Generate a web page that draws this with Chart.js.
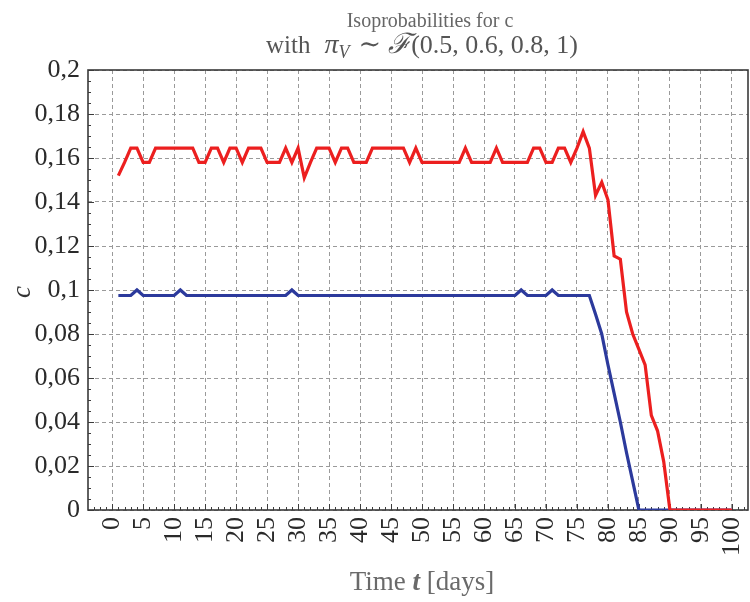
<!DOCTYPE html>
<html>
<head>
<meta charset="utf-8">
<script src="https://cdn.jsdelivr.net/npm/chart.js@4/dist/chart.umd.min.js"></script>
<style>
  html, body { margin: 0; padding: 0; background: #ffffff; }
  #wrap { width: 750px; height: 602px; }
</style>
</head>
<body>
<div id="wrap"><canvas id="chart" width="750" height="602"></canvas></div>
<script>
// Time axis (days)
const days = [
  1, 2, 3, 4, 5, 6, 7, 8, 9, 10,
  11, 12, 13, 14, 15, 16, 17, 18, 19, 20,
  21, 22, 23, 24, 25, 26, 27, 28, 29, 30,
  31, 32, 33, 34, 35, 36, 37, 38, 39, 40,
  41, 42, 43, 44, 45, 46, 47, 48, 49, 50,
  51, 52, 53, 54, 55, 56, 57, 58, 59, 60,
  61, 62, 63, 64, 65, 66, 67, 68, 69, 70,
  71, 72, 73, 74, 75, 76, 77, 78, 79, 80,
  81, 82, 83, 84, 85, 86, 87, 88, 89, 90,
  91, 92, 93, 94, 95, 96, 97, 98, 99, 100
];

// Upper isoprobability curve for c (red)
const cUpper = [
  0.152, 0.158, 0.1645, 0.1645, 0.158, 0.158, 0.1645, 0.1645, 0.1645, 0.1645,
  0.1645, 0.1645, 0.1645, 0.158, 0.158, 0.1645, 0.1645, 0.158, 0.1645, 0.1645,
  0.158, 0.1645, 0.1645, 0.1645, 0.158, 0.158, 0.158, 0.1645, 0.158, 0.1645,
  0.151, 0.158, 0.1645, 0.1645, 0.1645, 0.158, 0.1645, 0.1645, 0.158, 0.158,
  0.158, 0.1645, 0.1645, 0.1645, 0.1645, 0.1645, 0.1645, 0.158, 0.1645, 0.158,
  0.158, 0.158, 0.158, 0.158, 0.158, 0.158, 0.1645, 0.158, 0.158, 0.158,
  0.158, 0.1645, 0.158, 0.158, 0.158, 0.158, 0.158, 0.1645, 0.1645, 0.158,
  0.158, 0.1645, 0.1645, 0.158, 0.1645, 0.172, 0.1645, 0.143, 0.149, 0.141,
  0.1155, 0.114, 0.09, 0.08, 0.073, 0.066, 0.043, 0.036, 0.022, 0,
  0, 0, 0, 0, 0, 0, 0, 0, 0, 0
];

// Lower isoprobability curve for c (blue)
const cLower = [
  0.0975, 0.0975, 0.0975, 0.1, 0.0975, 0.0975, 0.0975, 0.0975, 0.0975, 0.0975,
  0.1, 0.0975, 0.0975, 0.0975, 0.0975, 0.0975, 0.0975, 0.0975, 0.0975, 0.0975,
  0.0975, 0.0975, 0.0975, 0.0975, 0.0975, 0.0975, 0.0975, 0.0975, 0.1, 0.0975,
  0.0975, 0.0975, 0.0975, 0.0975, 0.0975, 0.0975, 0.0975, 0.0975, 0.0975, 0.0975,
  0.0975, 0.0975, 0.0975, 0.0975, 0.0975, 0.0975, 0.0975, 0.0975, 0.0975, 0.0975,
  0.0975, 0.0975, 0.0975, 0.0975, 0.0975, 0.0975, 0.0975, 0.0975, 0.0975, 0.0975,
  0.0975, 0.0975, 0.0975, 0.0975, 0.0975, 0.1, 0.0975, 0.0975, 0.0975, 0.0975,
  0.1, 0.0975, 0.0975, 0.0975, 0.0975, 0.0975, 0.0975, 0.089, 0.08, 0.066,
  0.053, 0.04, 0.026, 0.013, 0, 0, 0, 0, 0, 0,
  0, 0, 0, 0, 0, 0, 0, 0, 0, 0
];

// Axis ticks
const xTickValues = [0, 5, 10, 15, 20, 25, 30, 35, 40, 45, 50, 55, 60, 65, 70, 75, 80, 85, 90, 95, 100];
const yTickValues = [0, 0.02, 0.04, 0.06, 0.08, 0.1, 0.12, 0.14, 0.16, 0.18, 0.2];
const yTickLabels = ['0', '0,02', '0,04', '0,06', '0,08', '0,1', '0,12', '0,14', '0,16', '0,18', '0,2'];

const SERIF = '"Liberation Serif", "DejaVu Serif", serif';

// Draw a row of differently styled text pieces centred on cx
function drawRuns(ctx, runs, cx, baseline, color) {
  ctx.fillStyle = color;
  ctx.textBaseline = 'alphabetic';
  ctx.textAlign = 'left';
  let total = 0;
  runs.forEach(r => {
    if (r.gap !== undefined) { r.w = r.gap; } else { ctx.font = r.font; r.w = ctx.measureText(r.text).width; }
    total += r.w;
  });
  let x = cx - total / 2;
  runs.forEach(r => {
    if (r.text) {
      ctx.font = r.font;
      ctx.fillText(r.text, x, baseline + (r.dy || 0));
    }
    x += r.w;
  });
}

const framePlugin = {
  id: 'frame',
  beforeDatasetsDraw(chart) {
    const { ctx, chartArea: a, scales: { x, y } } = chart;
    ctx.save();
    ctx.strokeStyle = '#3c3c3c';
    ctx.lineWidth = 1;
    // minor and major inside ticks along the bottom edge
    ctx.beginPath();
    for (let d = -3; d <= 102; d++) {
      const px = Math.round(x.getPixelForValue(d)) + 0.5;
      const len = d % 5 === 0 ? 6 : 3;
      ctx.moveTo(px, a.bottom);
      ctx.lineTo(px, a.bottom - len);
    }
    // minor and major inside ticks along the left edge
    for (let k = 0; k <= 40; k++) {
      const py = Math.round(y.getPixelForValue(k * 0.005)) + 0.5;
      const len = k % 4 === 0 ? 6 : 3;
      ctx.moveTo(a.left, py);
      ctx.lineTo(a.left + len, py);
    }
    ctx.stroke();
    // frame
    ctx.lineWidth = 1.6;
    ctx.strokeStyle = '#3a3a3a';
    ctx.strokeRect(a.left, a.top, a.right - a.left, a.bottom - a.top);
    ctx.restore();
  },
  afterDraw(chart) {
    const { ctx } = chart;
    ctx.save();
    // title
    drawRuns(ctx, [{ text: 'Isoprobabilities for c', font: '20px ' + SERIF }], 430, 27, '#666666');
    drawRuns(ctx, [
      { text: 'with', font: '25px ' + SERIF },
      { gap: 14 },
      { text: 'π', font: 'italic 28px ' + SERIF },
      { text: 'V', font: 'italic 18px ' + SERIF, dy: 5 },
      { gap: 9 },
      { text: '∼', font: '27px ' + SERIF },
      { gap: 7 },
      { text: 'ℱ', font: 'italic 28px ' + SERIF },
      { text: '(0.5, 0.6, 0.8, 1)', font: '26px ' + SERIF }
    ], 422, 53, '#555555');
    // x axis title
    drawRuns(ctx, [
      { text: 'Time ', font: '27px ' + SERIF },
      { text: 't', font: 'italic bold 27px ' + SERIF },
      { text: ' [days]', font: '27px ' + SERIF }
    ], 422, 590, '#6a6a6a');
    // y axis title
    ctx.translate(22, 292);
    ctx.rotate(-Math.PI / 2);
    drawRuns(ctx, [{ text: 'c', font: 'italic 27px ' + SERIF }], 0, 8, '#333333');
    ctx.restore();
  }
};

new Chart(document.getElementById('chart'), {
  type: 'line',
  data: {
    datasets: [
      {
        label: 'upper',
        data: days.map((d, i) => ({ x: d, y: cUpper[i] })),
        borderColor: '#ec1f1f',
        borderWidth: 3.2,
        pointRadius: 0,
        tension: 0,
        fill: false
      },
      {
        label: 'lower',
        data: days.map((d, i) => ({ x: d, y: cLower[i] })),
        borderColor: '#2c3a9c',
        borderWidth: 3.2,
        pointRadius: 0,
        tension: 0,
        fill: false
      }
    ]
  },
  options: {
    responsive: false,
    animation: false,
    events: [],
    layout: { padding: { left: 0, top: 70, right: 2, bottom: 0 } },
    plugins: { legend: { display: false }, title: { display: false }, tooltip: { enabled: false } },
    scales: {
      x: {
        type: 'linear',
        min: -3.9,
        max: 102.6,
        afterBuildTicks: s => { s.ticks = xTickValues.map(v => ({ value: v })); },
        afterFit: s => { s.height = 92; s.paddingLeft = 0; s.paddingRight = 0; },
        grid: { color: '#9a9a9a', lineWidth: 1, drawTicks: false },
        border: { display: false, dash: [4, 3] },
        ticks: {
          autoSkip: false,
          maxRotation: 90,
          minRotation: 90,
          padding: 7,
          color: '#2a2a2a',
          font: { family: SERIF, size: 26 },
          callback: v => String(v)
        }
      },
      y: {
        type: 'linear',
        min: 0,
        max: 0.2,
        afterBuildTicks: s => { s.ticks = yTickValues.map(v => ({ value: v })); },
        afterFit: s => { s.width = 88; s.paddingTop = 0; s.paddingBottom = 0; },
        grid: { color: '#9a9a9a', lineWidth: 1, drawTicks: false },
        border: { display: false, dash: [4, 3] },
        ticks: {
          padding: 8,
          color: '#2a2a2a',
          font: { family: SERIF, size: 26 },
          callback: (v, i) => yTickLabels[i]
        }
      }
    }
  },
  plugins: [framePlugin]
});
</script>
</body>
</html>
